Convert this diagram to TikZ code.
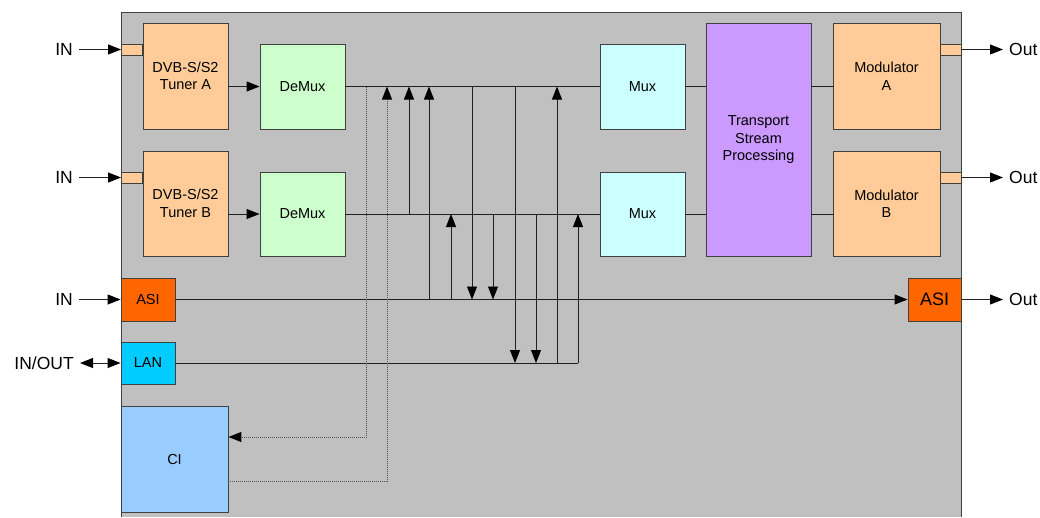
\documentclass[tikz,border=0pt]{standalone}
\usepackage{fontspec}
\setmainfont{Liberation Sans}
\usetikzlibrary{arrows.meta}
\definecolor{bgc}{HTML}{C0C0C0}
\definecolor{bordc}{HTML}{404040}
\definecolor{lnc}{HTML}{202020}
\definecolor{dotc}{HTML}{505050}
\definecolor{peach}{HTML}{FFCC99}
\definecolor{demuxc}{HTML}{CCFFCC}
\definecolor{muxc}{HTML}{CCFFFF}
\definecolor{tspc}{HTML}{CC99FF}
\definecolor{asic}{HTML}{FF6600}
\definecolor{lanc}{HTML}{00CCFF}
\definecolor{cic}{HTML}{99CCFF}
\newcommand\boxfont{\fontsize{14.5}{17.5}\selectfont}
\newcommand\lblfont{\fontsize{17.5}{20}\selectfont}
\begin{document}
\begin{tikzpicture}[x=1pt,y=-1pt,
  box/.style={draw=bordc, line width=0.9pt, inner sep=0pt, align=center, font=\boxfont},
  port/.style={draw=bordc, line width=0.9pt, fill=peach, inner sep=0pt, minimum width=21pt, minimum height=11pt},
  ln/.style={draw=lnc, line width=0.9pt},
  dotln/.style={draw=dotc, line width=1pt, dash pattern=on 1pt off 1pt},
  >={Triangle[length=13pt,width=10pt,color=black,fill=black]},
  lbl/.style={inner ysep=0pt, inner xsep=6pt, font=\lblfont}]
\useasboundingbox (0,0) rectangle (1040,517);
% housing
\fill[bgc] (121,12) rectangle (961,517);
\draw[bordc, line width=0.9pt] (121,517) -- (121,12) -- (961,12) -- (961,517);
% blocks
\node[box, fill=peach, minimum width=85pt, minimum height=106pt] (TA) at (185.5,76) {DVB-S/S2\\Tuner A};
\node[box, fill=peach, minimum width=85pt, minimum height=105pt] (TB) at (185.5,203.5) {DVB-S/S2\\Tuner B};
\node[box, fill=demuxc, minimum width=85pt, minimum height=85pt] (DA) at (302.5,86.5) {DeMux};
\node[box, fill=demuxc, minimum width=85pt, minimum height=84pt] (DB) at (302.5,214) {DeMux};
\node[box, fill=muxc, minimum width=85pt, minimum height=85pt] (MA) at (642.5,86.5) {Mux};
\node[box, fill=muxc, minimum width=85pt, minimum height=84pt] (MB) at (642.5,214) {Mux};
\node[box, fill=tspc, minimum width=105pt, minimum height=233pt] (TSP) at (758.5,140) {Transport\\Stream\\Processing};
\node[box, fill=peach, minimum width=107pt, minimum height=106pt] (ModA) at (886.5,76) {Modulator\\A};
\node[box, fill=peach, minimum width=107pt, minimum height=105pt] (ModB) at (886.5,203.5) {Modulator\\B};
\node[port] (PA) at (132,49.5) {};
\node[port] (PB) at (132,177.5) {};
\node[port] (QA) at (950.5,49.5) {};
\node[port] (QB) at (950.5,177.5) {};
\node[box, fill=asic, minimum width=54pt, minimum height=43pt] (ASIL) at (148,299.5) {ASI};
\node[box, fill=asic, minimum width=53pt, minimum height=43pt, font=\fontsize{18}{20}\selectfont] (ASIR) at (934.5,299.5) {ASI};
\node[box, fill=lanc, minimum width=54pt, minimum height=42pt] (LAN) at (148,363) {LAN};
\node[box, fill=cic, minimum width=107pt, minimum height=106pt] (CI) at (174.5,459) {CI};
% outer labels
\node[lbl, anchor=east] (inA) at (79,49.5) {IN};
\node[lbl, anchor=east] (inB) at (79,177.5) {IN};
\node[lbl, anchor=east] (inC) at (79,299.5) {IN};
\node[lbl, anchor=east] (inD) at (80,363) {IN/OUT};
\node[lbl, anchor=west] (outA) at (1003,49.5) {Out};
\node[lbl, anchor=west] (outB) at (1003,177.5) {Out};
\node[lbl, anchor=west] (outC) at (1003,299.5) {Out};
% external arrows
\draw[ln,->] (inA.east) -- (PA.west);
\draw[ln,->] (inB.east) -- (PB.west);
\draw[ln,->] (inC.east) -- (ASIL.west);
\draw[ln,<->] (inD.east) -- (LAN.west);
\draw[ln,->] (QA.east) -- (outA.west);
\draw[ln,->] (QB.east) -- (outB.west);
\draw[ln,->] (ASIR.east) -- (outC.west);
% internal chain
\draw[ln,->] (TA.east |- DA) -- (DA.west);
\draw[ln,->] (TB.east |- DB) -- (DB.west);
\draw[ln] (DA.east) -- (MA.west);
\draw[ln] (DB.east) -- (MB.west);
\draw[ln] (MA.east) -- (MA.east -| TSP.west);
\draw[ln] (MB.east) -- (MB.east -| TSP.west);
\draw[ln] (MA.east -| TSP.east) -- (MA.east -| ModA.west);
\draw[ln] (MB.east -| TSP.east) -- (MB.east -| ModB.west);
\draw[ln,->] (ASIL.east) -- (ASIR.west);
\draw[ln] (LAN.east) -- (LAN -| 578,0);
% cross connections
\foreach \x/\a/\b in {409/DB/DA, 429/ASIL/DA, 451/ASIL/DB, 472/DA/ASIL, 493/DB/ASIL, 515/DA/LAN, 536/DB/LAN, 557/LAN/DA, 578/LAN/DB}
  \draw[ln,->] (\a -| \x,0) -- (\b -| \x,0);
% CI dotted paths
\draw[dotln,->] (DA -| 366,0) |- (CI.east |- 0,437);
\draw[dotln,->] (CI.east |- 0,481) -| (DA -| 387,0);
\end{tikzpicture}
\end{document}
